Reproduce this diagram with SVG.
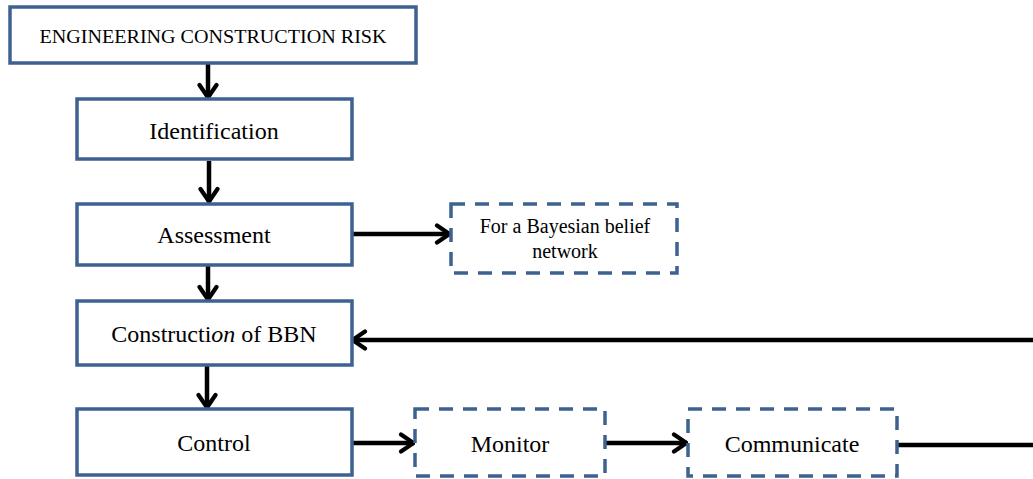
<svg xmlns="http://www.w3.org/2000/svg" width="1033" height="479" viewBox="0 0 1033 479">
<style>
.box{fill:#fff;stroke:#3d6190;stroke-width:3.5}
.dash{fill:#fff;stroke:#3d6190;stroke-width:3.5;stroke-dasharray:14 10}
.t{font-family:'Liberation Serif','Times New Roman','DejaVu Serif',serif;fill:#000;text-anchor:middle}
.c{fill:none;stroke:#000;stroke-width:4.5}
</style>
<defs>
<marker id="ah" viewBox="0 0 18 22" refX="16" refY="11" markerWidth="18" markerHeight="22" markerUnits="userSpaceOnUse" orient="auto">
<path d="M3,2.5 L15.5,11 L3,19.5" fill="none" stroke="#000" stroke-width="4.2" stroke-linecap="round" stroke-linejoin="round"/>
</marker>
</defs>
<g id="connectors">
<line class="c" x1="208" y1="64" x2="208" y2="98" marker-end="url(#ah)"/>
<line class="c" x1="209" y1="161" x2="209" y2="202" marker-end="url(#ah)"/>
<line class="c" x1="352" y1="234" x2="450" y2="234" marker-end="url(#ah)"/>
<line class="c" x1="208" y1="266" x2="208" y2="300" marker-end="url(#ah)"/>
<line class="c" x1="1040" y1="340" x2="352" y2="340" marker-end="url(#ah)"/>
<line class="c" x1="207" y1="366" x2="207" y2="408" marker-end="url(#ah)"/>
<line class="c" x1="352" y1="443" x2="414" y2="443" marker-end="url(#ah)"/>
<line class="c" x1="605" y1="443" x2="687" y2="443" marker-end="url(#ah)"/>
<line class="c" x1="897" y1="445" x2="1040" y2="445"/>
</g>
<g id="n-risk">
<rect class="box" x="10" y="7" width="406" height="56"/>
<text class="t" x="213" y="43" font-size="19.5" textLength="347" lengthAdjust="spacingAndGlyphs">ENGINEERING CONSTRUCTION RISK</text>
</g>
<g id="n-identification">
<rect class="box" x="77" y="99" width="275" height="60"/>
<text class="t" x="214" y="139" font-size="24">Identification</text>
</g>
<g id="n-assessment">
<rect class="box" x="77" y="204" width="275" height="61"/>
<text class="t" x="214" y="243" font-size="24">Assessment</text>
</g>
<g id="n-bayesian">
<rect class="dash" x="451" y="204" width="226" height="69"/>
<text class="t" x="565" y="233" font-size="20">For a Bayesian belief</text>
<text class="t" x="565" y="258" font-size="20">network</text>
</g>
<g id="n-construction">
<rect class="box" x="77" y="301" width="275" height="64"/>
<text class="t" x="214" y="342" font-size="24">Constructi<tspan font-style="italic">on</tspan> of BBN</text>
</g>
<g id="n-control">
<rect class="box" x="77" y="409" width="275" height="66"/>
<text class="t" x="214" y="451" font-size="24">Control</text>
</g>
<g id="n-monitor">
<rect class="dash" x="415" y="409" width="190" height="67"/>
<text class="t" x="510" y="452" font-size="24">Monitor</text>
</g>
<g id="n-communicate">
<rect class="dash" x="688" y="409" width="209" height="67"/>
<text class="t" x="792" y="452" font-size="24">Communicate</text>
</g>
</svg>
